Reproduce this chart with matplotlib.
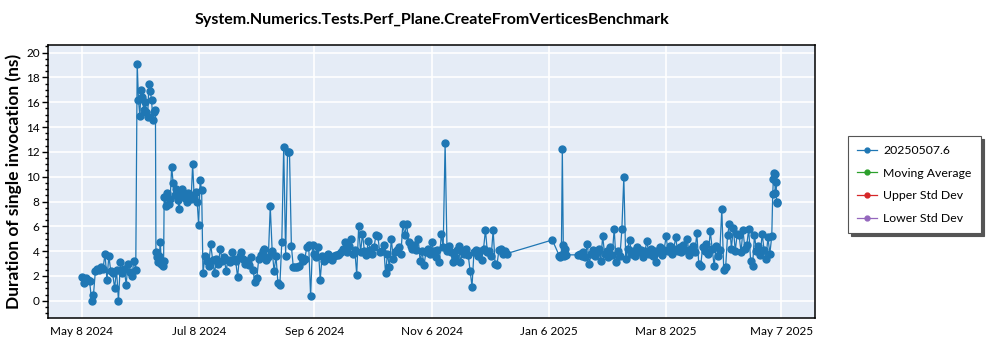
import numpy as np
import pandas as pd
import matplotlib
matplotlib.use("Agg")
import matplotlib.pyplot as plt
from matplotlib.ticker import MultipleLocator

plt.rcParams["font.family"] = ["Lato", "DejaVu Sans"]

TITLE = "System.Numerics.Tests.Perf_Plane.CreateFromVerticesBenchmark"
Y_LABEL = "Duration of single invocation (ns)"
SERIES_NAME = "20250507.6"
EXTRA_SERIES = ["Moving Average", "Upper Std Dev", "Lower Std Dev"]

# --- measurements (ns), grouped into runs of consecutive builds ---
# early May 2024, daily
run_a_start = "2024-05-08"
run_a = [1.9, 1.4, 1.8, 1.7, 1.6, 0.0, 0.5, 2.4, 2.6, 2.5, 2.7, 2.6, 3.8, 1.7,
         3.6, 2.4, 2.2, 1.0, 2.5, 0.0, 3.1, 2.2, 2.6, 1.3, 3.0, 2.3, 2.0, 3.2, 2.5]

# regression plateau in June
run_b_span = ("2024-06-05 18:00", "2024-06-15 06:00")
run_b = [19.1, 16.2, 14.9, 17.0, 16.4, 15.4, 16.0, 15.2, 14.8, 17.5, 16.9,
         16.2, 14.6, 15.2, 15.4]

run_c_span = ("2024-06-15 12:00", "2024-06-19 12:00")
run_c = [3.9, 3.5, 3.1, 3.6, 4.7, 3.0, 2.8, 3.2]

run_d_span = ("2024-06-19 19:00", "2024-07-09 07:00")
run_d = [8.4, 7.6, 8.7, 7.8, 8.2, 10.8, 9.5, 8.5, 9.0, 8.1, 7.4, 8.5, 9.0,
         8.6, 8.3, 8.0, 8.7, 8.5, 8.2, 11.0, 8.4, 8.8, 8.0, 6.1, 9.7, 8.9]

# July - September 2024, daily
run_e1_start = "2024-07-10"
run_e1 = [2.2, 3.6, 3.2, 2.8, 4.6, 3.3, 2.2, 3.4, 3.0, 4.2, 3.2, 3.5, 2.4, 3.3,
          3.1, 3.9, 3.4, 3.2, 1.9, 3.6, 3.9, 3.4, 3.0, 3.2, 2.9, 3.5, 2.5, 1.5,
          1.8, 3.4, 3.7, 4.0, 4.2, 3.3, 3.5, 7.6, 4.0, 2.4, 3.6, 1.4, 1.3, 4.7,
          12.4, 3.6, 12.0, 12.0, 4.4, 2.7, 2.7, 2.7, 2.8, 3.5, 3.2, 3.4, 4.3,
          4.5, 0.35]

# September - December 2024, daily
run_e2_start = "2024-09-05"
run_e2 = [4.5, 3.8, 3.5, 4.3, 1.7, 3.6, 3.2, 3.4, 3.8, 3.5, 3.3, 3.6, 3.7, 3.7,
          3.8, 3.9, 4.2, 4.7, 3.9, 4.4, 5.0, 3.8, 4.1, 2.1, 6.0, 3.9, 5.4, 4.0,
          3.7, 4.8, 4.1, 3.8, 4.3, 5.3, 5.2, 3.9, 4.0, 4.5, 2.2, 3.8, 2.7, 5.0,
          3.4, 3.9, 4.1, 4.3, 3.8, 6.2, 5.3, 6.2, 4.7, 4.4, 4.2, 4.5, 4.1, 5.0,
          3.2, 4.0, 2.85, 3.9, 4.2, 3.8, 4.7, 4.0, 3.5, 4.1, 3.1, 5.4, 4.3, 12.7,
          4.0, 4.4, 3.9, 3.1, 3.5, 4.1, 4.4, 3.1, 4.0, 3.8, 4.2, 3.7, 2.4, 1.15,
          3.9, 4.1, 3.6, 4.0, 3.3, 4.2, 5.7, 3.9, 4.0, 3.6, 5.7, 3.0, 2.9, 4.1,
          4.2, 3.8, 4.0, 3.8]

# January 2025
run_f0_time = "2025-01-07 19:00"
run_f0 = [4.9]

run_f1_span = ("2025-01-11 12:00", "2025-01-15 00:00")
run_f1 = [3.6, 3.5, 3.7, 12.2, 4.5, 3.6, 4.2, 3.7]

# January - May 2025, daily
run_f2_start = "2025-01-21"
run_f2 = [3.7, 3.8, 3.6, 3.9, 3.5, 4.6, 3.0, 3.8, 4.1, 3.6, 3.9, 4.2, 3.2, 5.2,
          3.8, 4.0, 3.5, 4.3, 3.7, 5.8, 3.1, 4.0, 3.6, 5.8, 9.95, 3.4, 4.2, 4.9,
          3.8, 4.0, 3.6, 4.3, 3.9, 4.1, 3.5, 4.0, 4.8, 3.8, 4.2, 3.6, 4.0, 3.1,
          3.9, 4.3, 3.7, 4.1, 5.2, 4.0, 4.4, 3.8, 4.2, 5.1, 4.0, 4.3, 3.9, 4.5,
          4.1, 5.0, 3.7, 4.2, 4.4, 3.9, 5.45, 3.0, 2.8, 4.3, 4.0, 4.6, 3.8, 5.6,
          4.2, 2.8, 4.4, 3.6, 4.1, 7.4, 2.5, 2.7, 5.3, 6.2, 4.2, 5.9, 4.0, 5.4,
          5.3, 3.9, 5.7, 4.2, 4.5, 5.8, 3.2, 2.8, 5.3, 4.0, 4.4, 3.7, 5.4, 4.1,
          3.4, 5.1, 3.8, 5.2]

# latest builds, early May 2025
run_f3_span = ("2025-05-02 12:00", "2025-05-04 20:00")
run_f3 = [8.6, 9.8, 10.3, 10.2, 8.7, 9.6, 8.0, 7.9]

tick_dates = ["2024-05-08", "2024-07-08", "2024-09-06", "2024-11-06",
              "2025-01-06", "2025-03-08", "2025-05-07"]


def spread(span, vals):
    return pd.date_range(span[0], span[1], periods=len(vals))


def daily(start, vals):
    return pd.date_range(start, periods=len(vals), freq="D")


times = np.concatenate([
    daily(run_a_start, run_a).values,
    spread(run_b_span, run_b).values,
    spread(run_c_span, run_c).values,
    spread(run_d_span, run_d).values,
    daily(run_e1_start, run_e1).values,
    daily(run_e2_start, run_e2).values,
    pd.to_datetime([run_f0_time]).values,
    spread(run_f1_span, run_f1).values,
    daily(run_f2_start, run_f2).values,
    spread(run_f3_span, run_f3).values,
])
values = np.concatenate([run_a, run_b, run_c, run_d, run_e1, run_e2,
                         run_f0, run_f1, run_f2, run_f3])

fig = plt.figure(figsize=(10, 3.5), dpi=100)
ax = fig.add_axes([0.048, 0.091, 0.767, 0.78])
ax.set_facecolor("#E5ECF6")

ax.plot(times, values, color="#1f77b4", linewidth=0.9, marker="o",
        markersize=5, label=SERIES_NAME, zorder=3)
for name, col in zip(EXTRA_SERIES, ["#2ca02c", "#d62728", "#9467bd"]):
    ax.plot([], [], color=col, linewidth=0.9, marker="o", markersize=3.5, label=name)

ax.set_ylim(-1.4, 20.6)
ax.set_xlim(pd.Timestamp("2024-04-20 08:00"), pd.Timestamp("2025-05-24 12:00"))
ax.yaxis.set_major_locator(MultipleLocator(2))
ax.yaxis.set_minor_locator(MultipleLocator(0.5))
ticks = pd.to_datetime(tick_dates)
ax.set_xticks(ticks)
ax.set_xticklabels([f"{t:%b} {t.day} {t:%Y}" for t in ticks])

ax.grid(True, which="major", color="white", linewidth=1.2)
ax.set_axisbelow(True)
ax.tick_params(axis="x", length=0, pad=6, labelsize=8.5)
ax.tick_params(axis="y", which="major", length=4, width=1, labelsize=8.5, pad=2)
ax.tick_params(axis="y", which="minor", length=2, width=1)
for sp in ax.spines.values():
    sp.set_color("black")
    sp.set_linewidth(1.1)

ax.set_title(TITLE, fontsize=11.5, fontweight="bold", pad=15)
ax.set_ylabel(Y_LABEL, fontsize=12.5, fontweight="bold", labelpad=3)

handles, labels = ax.get_legend_handles_labels()
handles[0] = plt.Line2D([], [], color="#1f77b4", linewidth=0.9, marker="o", markersize=3.5)
leg = fig.legend(handles, labels, loc="upper left", bbox_to_anchor=(0.848, 0.612),
                 fontsize=8.8, frameon=True, fancybox=False,
                 shadow={"color": "#555555", "alpha": 1}, edgecolor="#555555",
                 borderpad=0.75, labelspacing=0.95, handlelength=1.6,
                 handletextpad=0.55, borderaxespad=0)
leg.get_frame().set_linewidth(0.8)

fig.savefig("out.png", dpi=100)
